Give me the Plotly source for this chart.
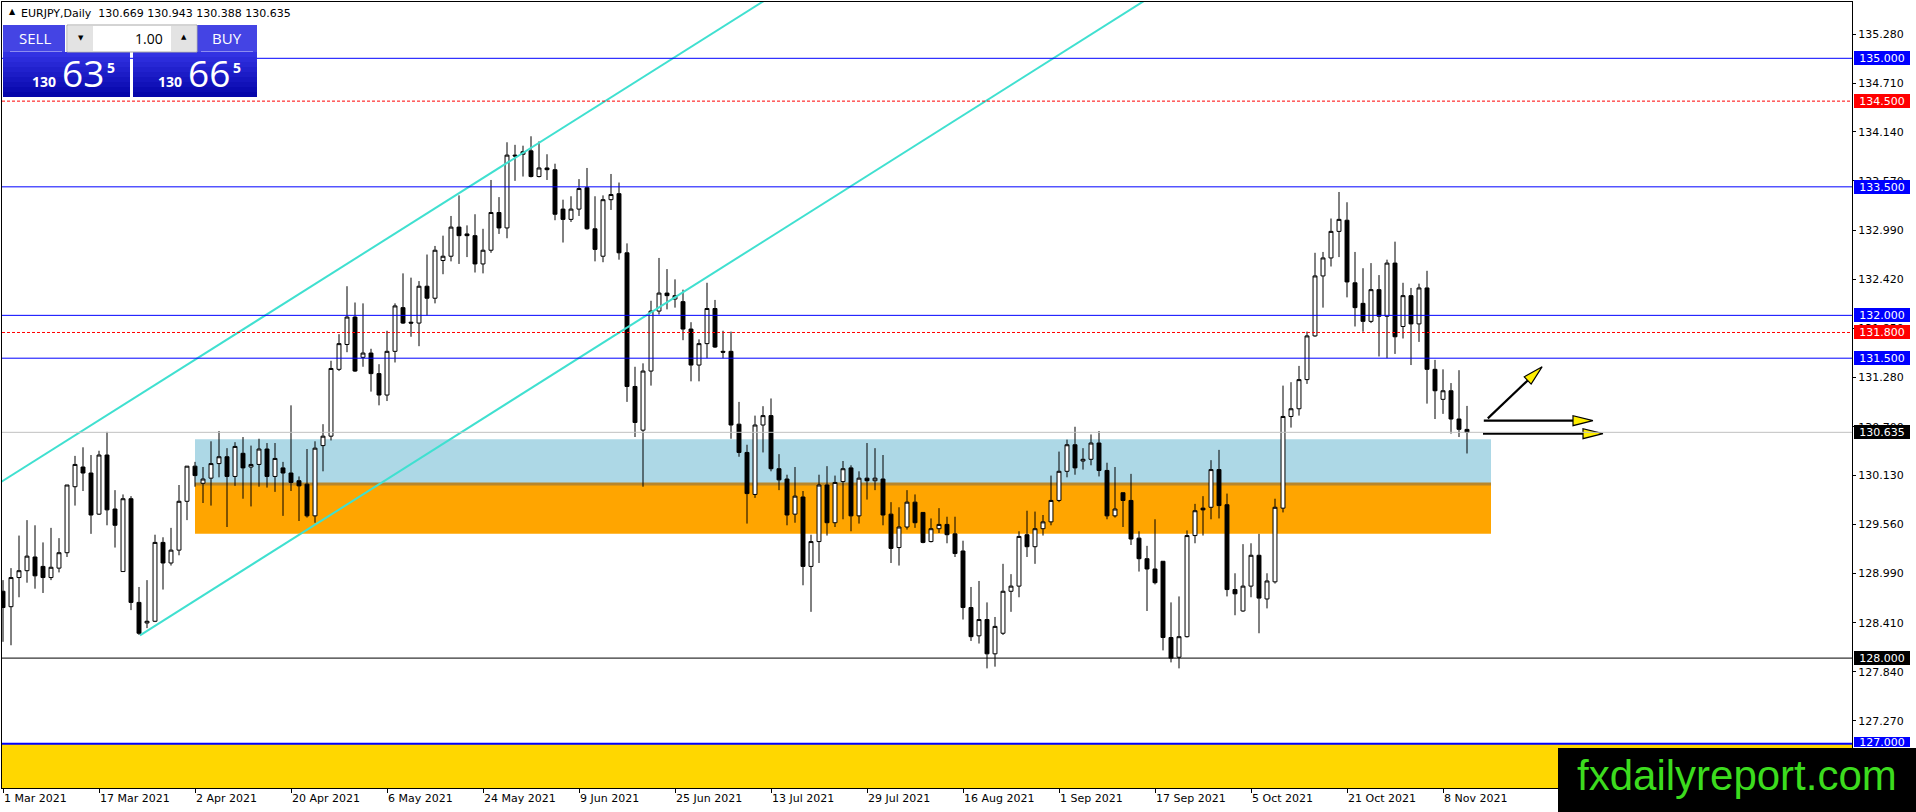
import math
import plotly.graph_objects as go

# ---------------- data ----------------
SYMBOL = "EURJPY"
TIMEFRAME = "Daily"

opens = [
    128.78, 128.60, 128.94, 129.02, 129.18, 129.07, 128.94, 129.05, 129.23, 130.00,
    130.23, 130.16, 129.68, 130.37, 129.74, 129.01, 129.86, 128.65, 128.41, 128.43,
    129.35, 129.11, 129.26, 129.83, 130.24, 130.04, 130.10, 130.27, 130.35, 130.12,
    130.39, 130.23, 130.26, 130.44, 130.12, 130.22, 130.16, 130.07, 130.03, 129.66,
    130.48, 130.59, 131.37, 131.66, 131.98, 131.51, 131.56, 131.32, 131.07, 131.58,
    132.09, 131.92, 131.91, 132.34, 132.20, 132.64, 132.69, 133.03, 132.95, 132.93,
    132.60, 132.76, 133.20, 133.02, 133.87, 133.88, 133.92, 133.62, 133.72, 133.70,
    133.24, 133.12, 133.24, 133.49, 133.01, 132.69, 133.35, 133.42, 132.73, 131.17,
    130.66, 131.35, 132.05, 132.26, 132.19, 132.16, 131.84, 131.42, 131.67, 132.08,
    131.58, 131.58, 130.73, 130.40, 129.91, 130.72, 130.83, 130.21, 130.09, 129.68,
    129.88, 129.07, 129.36, 130.02, 129.58, 130.06, 130.22, 129.66, 130.10, 130.07,
    130.09, 129.68, 129.29, 129.53, 129.82, 129.70, 129.36, 129.51, 129.56, 129.45,
    129.25, 128.59, 128.26, 128.45, 128.05, 128.29, 128.78, 128.84, 129.44, 129.30,
    129.51, 129.59, 129.84, 130.18, 130.49, 130.30, 130.32, 130.51, 130.19, 129.66,
    129.93, 129.84, 129.40, 129.16, 129.04, 129.13, 128.24, 128.01, 128.25, 129.43,
    129.75, 129.76, 130.20, 129.79, 128.80, 128.55, 128.84, 129.20, 128.69, 128.89,
    129.75, 130.82, 130.91, 131.25, 131.76, 132.46, 132.67, 132.98, 133.11, 132.38,
    132.14, 131.93, 132.30, 131.99, 132.61, 131.87, 132.23, 131.90, 132.32, 131.37,
    131.02, 131.12, 130.79, 130.669,
]
highs = [
    128.91, 129.05, 129.43, 129.61, 129.55, 129.35, 129.52, 129.40, 130.02, 130.36,
    130.46, 130.37, 130.42, 130.64, 129.96, 129.91, 129.89, 128.83, 128.91, 129.44,
    129.41, 129.52, 130.02, 130.24, 130.29, 130.23, 130.53, 130.65, 130.45, 130.52,
    130.58, 130.48, 130.56, 130.51, 130.51, 130.29, 130.95, 130.12, 130.44, 130.53,
    130.73, 131.47, 131.78, 132.34, 132.15, 132.14, 131.61, 131.43, 131.82, 132.14,
    132.49, 132.44, 132.40, 132.71, 132.81, 132.93, 133.16, 133.40, 133.05, 133.18,
    133.01, 133.58, 133.38, 134.02, 133.99, 133.98, 134.09, 134.03, 133.88, 133.77,
    133.35, 133.39, 133.59, 133.72, 133.39, 133.40, 133.65, 133.55, 132.84, 131.40,
    131.44, 132.17, 132.67, 132.54, 132.42, 132.30, 131.92, 131.72, 132.38, 132.18,
    131.82, 131.81, 130.99, 130.49, 130.83, 130.94, 131.03, 130.38, 130.14, 130.23,
    129.95, 129.44, 130.14, 130.24, 130.13, 130.30, 130.25, 130.18, 130.51, 130.45,
    130.37, 129.82, 129.76, 129.96, 129.91, 129.70, 129.63, 129.75, 129.65, 129.65,
    129.37, 128.83, 128.90, 128.65, 128.48, 129.10, 128.98, 129.48, 129.72, 129.71,
    129.67, 130.13, 130.41, 130.55, 130.70, 130.45, 130.61, 130.65, 130.28, 130.23,
    129.93, 130.15, 129.48, 129.31, 129.62, 129.13, 128.65, 128.72, 129.49, 129.80,
    129.89, 130.31, 130.43, 129.92, 128.99, 129.33, 129.34, 129.45, 128.99, 129.86,
    131.18, 131.22, 131.41, 131.81, 132.73, 132.74, 133.13, 133.44, 133.32, 132.74,
    132.55, 132.61, 132.47, 132.65, 132.86, 132.38, 132.32, 132.37, 132.52, 131.48,
    131.37, 131.21, 131.36, 130.943,
]
lows = [
    128.19, 128.15, 128.71, 128.88, 128.81, 128.76, 128.91, 129.00, 129.18, 129.78,
    129.95, 129.45, 129.67, 129.55, 129.29, 129.01, 128.56, 128.27, 128.35, 128.42,
    128.80, 129.08, 129.20, 129.61, 130.00, 129.81, 129.78, 130.11, 129.53, 130.01,
    129.86, 129.77, 130.00, 129.99, 129.94, 129.66, 129.95, 129.60, 129.64, 129.58,
    130.18, 130.54, 131.35, 131.57, 131.34, 131.40, 131.11, 130.95, 131.00, 131.45,
    131.90, 131.75, 131.64, 132.00, 132.14, 132.48, 132.63, 132.60, 132.68, 132.50,
    132.49, 132.73, 132.95, 132.90, 133.57, 133.62, 133.61, 133.61, 133.58, 133.11,
    132.85, 133.09, 133.16, 133.00, 132.63, 132.62, 133.23, 132.65, 130.99, 130.58,
    130.00, 131.18, 132.01, 132.07, 132.09, 131.71, 131.23, 131.23, 131.50, 131.62,
    131.50, 130.56, 130.35, 129.57, 129.87, 130.40, 130.18, 129.96, 129.55, 129.58,
    128.85, 128.54, 129.11, 129.43, 129.53, 129.62, 129.48, 129.57, 129.85, 129.96,
    129.55, 129.11, 129.08, 129.50, 129.52, 129.34, 129.35, 129.46, 129.34, 129.18,
    128.45, 128.20, 128.17, 127.88, 127.90, 128.27, 128.54, 128.71, 129.18, 129.10,
    129.43, 129.55, 129.82, 130.11, 130.14, 130.20, 130.25, 130.12, 129.62, 129.64,
    129.53, 129.32, 129.01, 128.55, 128.86, 128.09, 127.95, 127.88, 128.24, 129.34,
    129.43, 129.62, 129.63, 128.72, 128.50, 128.54, 128.71, 128.29, 128.58, 128.87,
    129.70, 130.69, 130.83, 131.20, 131.75, 132.09, 132.57, 132.68, 132.21, 131.87,
    131.81, 131.91, 131.52, 131.50, 131.55, 131.73, 131.42, 131.69, 130.97, 130.79,
    130.85, 130.62, 130.58, 130.388,
]
closes = [
    128.59, 128.94, 129.02, 129.19, 128.96, 128.94, 129.06, 129.23, 130.02, 130.26,
    130.16, 129.67, 130.37, 129.73, 129.55, 129.86, 128.65, 128.29, 128.43, 129.35,
    129.11, 129.26, 129.83, 130.24, 130.13, 130.09, 130.27, 130.35, 130.12, 130.47,
    130.22, 130.26, 130.44, 130.12, 130.33, 130.16, 130.05, 130.01, 129.66, 130.45,
    130.59, 131.38, 131.67, 131.98, 131.35, 131.56, 131.32, 131.07, 131.58, 132.11,
    131.91, 131.91, 132.34, 132.20, 132.76, 132.69, 133.03, 132.93, 132.93, 132.60,
    132.76, 133.20, 133.02, 133.87, 133.86, 133.91, 133.62, 133.72, 133.70, 133.18,
    133.12, 133.24, 133.48, 133.01, 132.77, 133.35, 133.41, 132.73, 131.17, 130.75,
    131.35, 132.05, 132.26, 132.23, 132.23, 131.84, 131.42, 131.67, 132.08, 131.63,
    131.57, 130.72, 130.40, 129.92, 130.72, 130.83, 130.21, 130.08, 129.67, 129.89,
    129.07, 129.36, 130.02, 129.58, 130.05, 130.21, 129.66, 130.10, 130.07, 130.10,
    129.67, 129.28, 129.53, 129.82, 129.58, 129.35, 129.51, 129.56, 129.44, 129.22,
    128.59, 128.25, 128.45, 128.05, 128.37, 128.78, 128.84, 129.42, 129.30, 129.51,
    129.59, 129.84, 130.18, 130.49, 130.22, 130.32, 130.51, 130.19, 129.66, 129.74,
    129.84, 129.39, 129.16, 129.04, 128.88, 128.24, 128.00, 128.25, 129.43, 129.72,
    129.73, 130.20, 129.78, 128.80, 128.75, 128.84, 129.20, 128.70, 128.90, 129.76,
    130.82, 130.91, 131.25, 131.76, 132.46, 132.67, 132.98, 133.12, 132.39, 132.09,
    131.93, 132.30, 131.99, 132.61, 131.75, 132.23, 131.90, 132.32, 131.37, 131.12,
    131.12, 130.79, 130.67, 130.635,
]
bars = list(range(len(opens)))

date_tick_bars = [0, 12, 24, 36, 48, 60, 72, 84, 96, 108, 120, 132, 144, 156, 168, 180]
date_tick_labels = ["1 Mar 2021", "17 Mar 2021", "2 Apr 2021", "20 Apr 2021", "6 May 2021",
                    "24 May 2021", "9 Jun 2021", "25 Jun 2021", "13 Jul 2021", "29 Jul 2021",
                    "16 Aug 2021", "1 Sep 2021", "17 Sep 2021", "5 Oct 2021", "21 Oct 2021",
                    "8 Nov 2021"]
price_ticks = [135.28, 134.71, 134.14, 133.57, 132.99, 132.42, 131.85, 131.28, 130.70,
               130.13, 129.56, 128.99, 128.41, 127.84, 127.27]

level_prices = [135.0, 134.5, 133.5, 132.0, 131.8, 131.5, 128.0, 127.0]
level_colors = ["#0000FF", "#FF0000", "#0000FF", "#0000FF", "#FF0000", "#0000FF", "#000000", "#0000FF"]
level_dashed = [False, True, False, False, True, False, False, False]

bid_price = closes[-1]
ask_price = 130.665
lot_size = "1.00"

zone_start_bar, zone_end_bar = 24, 186
zone_blue = (130.032, 130.553)
zone_orange = (129.452, 130.032)

channel_upper = [(0.0, 130.070), (64.125, 133.845)]
channel_lower = [(17.125, 128.266), (96.125, 132.926)]

arrow_start_x = [185.6, 185.1, 185.0]
arrow_start_y = [130.798, 130.771, 130.619]
arrow_end_x = [192.4, 198.75, 200.0]
arrow_end_y = [131.401, 130.771, 130.619]

watermark = "fxdailyreport.com"

# ---------------- layout geometry ----------------
W, H = 1916, 812
PL, PR, PT, PB = 2, 1852, 2, 788
X_RANGE = [-0.125, 231.125]
Y_RANGE = [126.484, 135.657]
PX_X = (PR - PL) / (X_RANGE[1] - X_RANGE[0])
PX_Y = (PB - PT) / (Y_RANGE[1] - Y_RANGE[0])
FONT = "DejaVu Sans"
UIFONT = "Open Sans"


def px(x):
    return (x - PL) / (PR - PL)


def py(y):
    return (PB - y) / (PB - PT)


fig = go.Figure()

fig.add_trace(go.Candlestick(
    x=bars, open=opens, high=highs, low=lows, close=closes,
    increasing=dict(line=dict(color="black", width=1), fillcolor="white"),
    decreasing=dict(line=dict(color="black", width=1), fillcolor="black"),
    whiskerwidth=0, showlegend=False, hoverinfo="skip"))

# channel rays
for (x0, y0), (x1, y1) in (channel_upper, channel_lower):
    slope = (y1 - y0) / (x1 - x0)
    xs = x0 if x0 > 0 else -2.0
    xe = 240.0
    fig.add_trace(go.Scatter(x=[xs, xe],
                             y=[y0 + slope * (xs - x0), y0 + slope * (xe - x0)],
                             mode="lines", line=dict(color="#40E0D0", width=2),
                             showlegend=False, hoverinfo="skip"))

# arrows
HEAD_L, HEAD_W = 20.0, 5.0
for sx, sy, ex, ey in zip(arrow_start_x, arrow_start_y, arrow_end_x, arrow_end_y):
    dxp = (ex - sx) * PX_X
    dyp = (ey - sy) * PX_Y
    ln = math.hypot(dxp, dyp)
    ux, uy = dxp / ln, dyp / ln
    bx, by = ex - ux * HEAD_L / PX_X, ey - uy * HEAD_L / PX_Y
    nx, ny = -uy * HEAD_W, ux * HEAD_W
    fig.add_trace(go.Scatter(x=[sx, bx], y=[sy, by], mode="lines",
                             line=dict(color="black", width=2.2),
                             showlegend=False, hoverinfo="skip"))
    fig.add_trace(go.Scatter(x=[ex, bx + nx / PX_X, bx - nx / PX_X, ex],
                             y=[ey, by + ny / PX_Y, by - ny / PX_Y, ey],
                             mode="lines", fill="toself", fillcolor="#FFEE00",
                             line=dict(color="black", width=1.2),
                             showlegend=False, hoverinfo="skip"))

shapes = []
# zones (background)
shapes.append(dict(type="rect", xref="x", yref="y", x0=zone_start_bar, x1=zone_end_bar,
                   y0=zone_blue[0], y1=zone_blue[1], fillcolor="#ADD8E6", line_width=0, layer="below"))
shapes.append(dict(type="rect", xref="x", yref="y", x0=zone_start_bar, x1=zone_end_bar,
                   y0=zone_orange[0], y1=zone_orange[1], fillcolor="#FFA500", line_width=0, layer="below"))
shapes.append(dict(type="line", xref="x", yref="y", x0=zone_start_bar, x1=zone_end_bar,
                   y0=zone_blue[0], y1=zone_blue[0], line=dict(color="#B8862B", width=3), layer="below"))
shapes.append(dict(type="rect", xref="paper", yref="y", x0=0, x1=1,
                   y0=Y_RANGE[0], y1=level_prices[-1], fillcolor="#FFD700", line_width=0, layer="below"))

# horizontal levels
for p, c, d in zip(level_prices, level_colors, level_dashed):
    shapes.append(dict(type="line", xref="paper", yref="y", x0=0, x1=1, y0=p, y1=p,
                       line=dict(color=c, width=2 if p == 127.0 else 1, dash="3px,2px" if d else "solid"),
                       layer="above"))
shapes.append(dict(type="line", xref="paper", yref="y", x0=0, x1=1, y0=bid_price, y1=bid_price,
                   line=dict(color="#C0C0C0", width=1), layer="above"))


def rect_px(x0, y0, x1, y1, fill, line=None):
    d = dict(type="rect", xref="paper", yref="paper", x0=px(x0), x1=px(x1), y0=py(y1), y1=py(y0),
             fillcolor=fill, layer="above")
    if line:
        d["line"] = dict(color=line, width=1)
    else:
        d["line_width"] = 0
    return d


# trading panel
shapes.append(rect_px(3, 25, 65, 52, "#4444E4"))
shapes.append(rect_px(197, 25, 257, 52, "#4444E4"))
steps = 9
for k in range(steps):
    t = k / (steps - 1)
    r = int(50 - 44 * t)
    col = f"rgb({r},{r},{int(226 - 56 * t)})"
    y0 = 52 + k * 45 / steps
    y1 = 52 + (k + 1) * 45 / steps + 0.6
    shapes.append(rect_px(3, y0, 130, min(y1, 97), col))
    shapes.append(rect_px(133, y0, 257, min(y1, 97), col))
shapes.append(dict(type="line", xref="paper", yref="paper", x0=px(10), x1=px(62), y0=py(51.5), y1=py(51.5),
                   line=dict(color="#8C8CF0", width=1), layer="above"))
shapes.append(dict(type="line", xref="paper", yref="paper", x0=px(201), x1=px(253), y0=py(51.5), y1=py(51.5),
                   line=dict(color="#8C8CF0", width=1), layer="above"))
shapes.append(rect_px(67, 25, 197, 52, "white", "#A8A8A8"))
shapes.append(rect_px(68, 26, 93, 51, "#E3E3E3"))
shapes.append(rect_px(171, 26, 196, 51, "#E3E3E3"))

# watermark box
shapes.append(rect_px(1558, 748, 1920, 815, "black"))

annotations = []


def ann_px(x, y, text, size, color, family=UIFONT, xanchor="center", bold=False):
    annotations.append(dict(xref="paper", yref="paper", x=px(x), y=py(y), text=f"<b>{text}</b>" if bold else text,
                            showarrow=False, xanchor=xanchor, yanchor="middle",
                            font=dict(family=family, size=size, color=color)))


# header
ann_px(7, 12, "▲", 8, "black", family=FONT, xanchor="left")
ann_px(19, 13, f"{SYMBOL},{TIMEFRAME}  {opens[-1]:.3f} {highs[-1]:.3f} {lows[-1]:.3f} {closes[-1]:.3f}",
       11, "black", family=FONT, xanchor="left")

# panel texts
ann_px(35, 38.5, "SELL", 15, "white")
ann_px(227, 38.5, "BUY", 15, "white")
ann_px(165, 38.5, lot_size, 14, "black", xanchor="right")
ann_px(80.5, 38.5, "▼", 7, "black", family=FONT)
ann_px(183.5, 37.5, "▲", 7, "black", family=FONT)


def split_price(p):
    s = f"{p:.3f}"
    big, frac = s.split(".")
    return big, frac[:2], frac[2:]


for (p, x_small, x_big, x_sup) in ((bid_price, 30, 60, 105), (ask_price, 156, 186, 231)):
    a, b, c = split_price(p)
    ann_px(x_small, 81.5, a, 14, "white", xanchor="left", bold=True)
    ann_px(x_big, 72.5, b, 37, "white", xanchor="left")
    ann_px(x_sup, 67.5, c, 14, "white", xanchor="left", bold=True)

# price boxes on the axis
box_prices = level_prices + [bid_price]
box_colors = ["#0000FF", "#FF0000", "#0000FF", "#0000FF", "#FF0000", "#0000FF", "#000000", "#0000FF", "#000000"]
for p, c in zip(box_prices, box_colors):
    hgt = 10 if p == 127.0 else 14
    annotations.append(dict(xref="paper", yref="y", x=1, y=p, xanchor="left", yanchor="middle",
                            xshift=2, yshift=2 if p == 127.0 else 0,
                            text=f"{p:.3f}", showarrow=False, bgcolor=c, borderpad=0, borderwidth=0,
                            width=56, height=hgt, align="center",
                            font=dict(family=FONT, size=11, color="white")))

# watermark text
ann_px(1737, 775, watermark, 42, "#3CDC1E", family="Liberation Sans")

fig.update_layout(
    width=W, height=H, autosize=False,
    margin=dict(l=PL, r=W - PR, t=PT, b=H - PB, pad=0),
    paper_bgcolor="white", plot_bgcolor="white",
    font=dict(family=FONT, size=11, color="black"),
    showlegend=False, shapes=shapes, annotations=annotations,
    xaxis=dict(range=X_RANGE, tickvals=date_tick_bars, ticktext=date_tick_labels,
               ticks="outside", ticklen=4, tickcolor="black", ticklabelposition="outside right",
               showline=True, linecolor="black", linewidth=1, mirror=True,
               showgrid=False, zeroline=False, rangeslider=dict(visible=False), fixedrange=True,
               tickfont=dict(family=FONT, size=11, color="black")),
    yaxis=dict(range=Y_RANGE, side="right", tickvals=price_ticks,
               ticktext=[f"{v:.3f}" for v in price_ticks],
               ticks="outside", ticklen=3, tickcolor="black",
               showline=True, linecolor="black", linewidth=1, mirror=True,
               showgrid=False, zeroline=False, fixedrange=True,
               tickfont=dict(family=FONT, size=11, color="black")),
)

fig.write_html("out.html", config={"displayModeBar": False, "staticPlot": True},
               post_script="document.body.style.margin='0';document.body.style.overflow='hidden';")
